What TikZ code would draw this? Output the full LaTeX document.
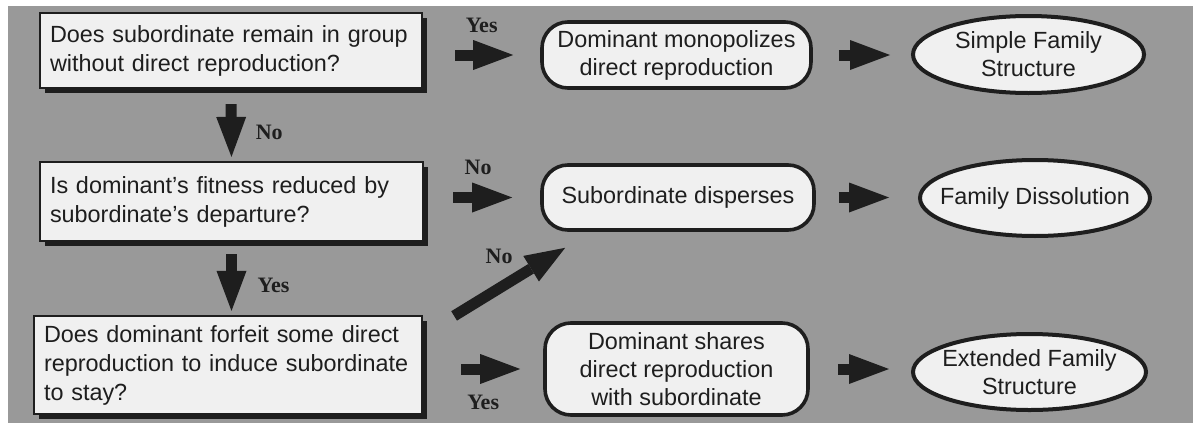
\documentclass[tikz,border=0pt]{standalone}
\usepackage{fontspec}
\setmainfont{Liberation Sans}
\newfontfamily\yesnofont{Liberation Serif}
\usepackage{tikz}
\usetikzlibrary{arrows.meta,shapes.geometric,shadows}

\definecolor{bggray}{RGB}{153,153,153}
\definecolor{boxfill}{RGB}{240,240,240}
\definecolor{ink}{RGB}{30,30,30}

\begin{document}
\begin{tikzpicture}[x=0.5pt, y=-0.5pt,
	question/.style={draw=ink, line width=1.1pt, fill=boxfill, inner xsep=5pt, inner ysep=0pt,
		align=left, text=ink, font=\fontsize{11.7}{14.5}\selectfont,
		drop shadow={shadow xshift=2.5pt, shadow yshift=-2.5pt, fill=ink, opacity=1}},
	outcome/.style={draw=ink, line width=1.8pt, fill=boxfill, rounded corners=13pt, inner sep=0pt,
		align=center, text=ink, font=\fontsize{11.7}{14}\selectfont},
	oval/.style={ellipse, draw=ink, line width=2pt, fill=boxfill, inner sep=0pt},
	ovaltext/.style={align=center, text=ink, font=\fontsize{11.7}{14}\selectfont},
	blockarrow/.style={draw=ink, line width=5.5pt, -{Triangle[length=20pt, width=15pt, line width=0pt]}},
	yesno/.style={text=ink, font=\yesnofont\bfseries\fontsize{11}{13}\selectfont}]
\useasboundingbox (0,0) rectangle (1193,423);
\fill[bggray] (8,6) rectangle (1193,423);

\node[question, minimum width=191pt, minimum height=37.5pt, text width=181pt] (q1) at (231,50.5)
	{Does subordinate remain in group\\without direct reproduction?};
\node[question, minimum width=191.5pt, minimum height=39.5pt, text width=181.5pt] (q2) at (231.5,201.5)
	{Is dominant's fitness reduced by\\subordinate's departure?};
\node[question, minimum width=194pt, minimum height=49pt, text width=184pt] (q3) at (228,365)
	{Does dominant forfeit some direct\\reproduction to induce subordinate\\to stay?};

\node[outcome, minimum width=134.5pt, minimum height=33pt] (r1) at (676.5,55)
	{Dominant monopolizes\\direct reproduction};
\node[outcome, minimum width=136pt, minimum height=32.5pt] (r2) at (678,197.5)
	{Subordinate disperses};
\node[outcome, minimum width=131.5pt, minimum height=46pt] (r3) at (676.5,369)
	{Dominant shares\\direct reproduction\\with subordinate};

\node[oval, minimum width=115.5pt, minimum height=38.5pt,
	label={[ovaltext]center:{Simple Family\\Structure}}] (e1) at (1028.5,54.5) {};
\node[oval, minimum width=115pt, minimum height=38pt,
	label={[ovaltext]center:{Family Dissolution}}] (e2) at (1035,198) {};
\node[oval, minimum width=116.5pt, minimum height=38pt,
	label={[ovaltext]center:{Extended Family\\Structure}}] (e3) at (1029.5,372) {};

\draw[blockarrow, shorten <=7.5pt, shorten >=2pt] (q1.south) --
	node[yesno, xshift=19pt, yshift=-3.5pt] (no1) {No} (q2.north);
\draw[blockarrow, shorten <=6pt, shorten >=2pt] (q2.south) --
	node[yesno, xshift=21pt, yshift=-3.25pt] (yes2) {Yes} (q2.south |- q3.north);

\draw[blockarrow, shorten <=16pt, shorten >=13.5pt] (q1.east |- r1) --
	node[yesno, yshift=15pt] (yes1) {Yes} (r1.west);
\draw[blockarrow, shorten <=14.5pt, shorten >=14pt] (q2.east |- r2) --
	node[yesno, xshift=-2pt, yshift=15pt] (no2) {No} (r2.west);
\draw[blockarrow, shorten <=19pt, shorten >=11.5pt] (q3.east |- r3) --
	node[yesno, yshift=-16.5pt] (yes3) {Yes} (r3.west);
\draw[blockarrow] ([xshift=15.5pt, yshift=-0.5pt]q3.north east) --
	node[yesno, xshift=-5.25pt, yshift=12.5pt] (no3) {No} ([xshift=12.5pt, yshift=-8pt]r2.south west);

\draw[blockarrow, shorten <=13pt, shorten >=10.5pt] (r1.east) -- (e1.west |- r1.east);
\draw[blockarrow, shorten <=11.5pt, shorten >=14.5pt] (r2.east) -- (e2.west |- r2.east);
\draw[blockarrow, shorten <=14pt, shorten >=11pt] (r3.east) -- (e3.west |- r3.east);

\end{tikzpicture}
\end{document}
